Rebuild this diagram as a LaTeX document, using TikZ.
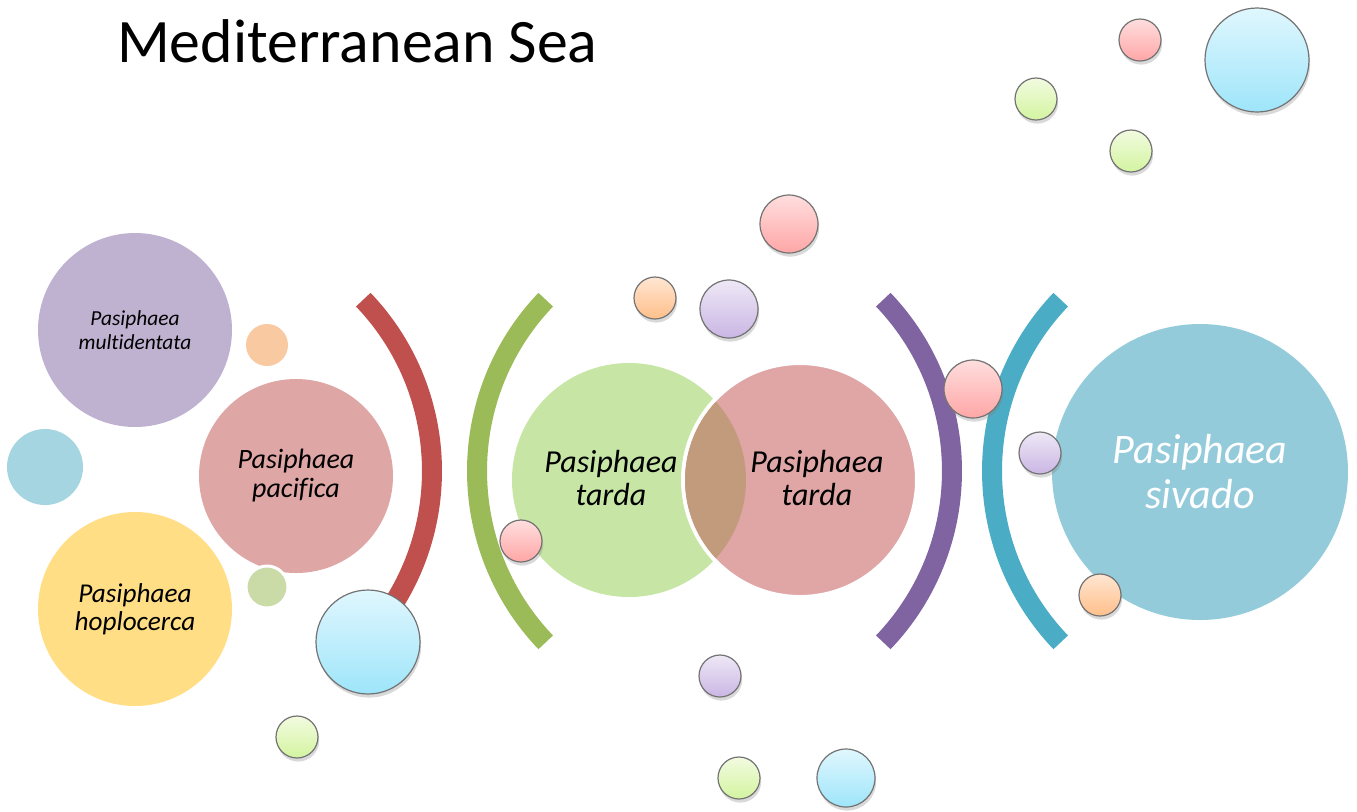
\documentclass[tikz,border=0pt]{standalone}
\usepackage{fontspec}
\setmainfont{Carlito}[Ligatures=NoCommon]
\usetikzlibrary{shadows}
\definecolor{multipurple}{HTML}{BFB1D0}
\definecolor{pacificapink}{HTML}{DFA6A6}
\definecolor{hoployellow}{HTML}{FFDE85}
\definecolor{tardagreen}{HTML}{C7E6A5}
\definecolor{tardapink}{HTML}{DFA6A5}
\definecolor{tardamix}{HTML}{C29A7C}
\definecolor{sivadoblue}{HTML}{94CBDB}
\definecolor{arcred}{HTML}{C0504D}
\definecolor{arcgreen}{HTML}{9BBB59}
\definecolor{arcpurple}{HTML}{8064A2}
\definecolor{arcteal}{HTML}{4BACC6}
\definecolor{flatpeach}{HTML}{F9C9A1}
\definecolor{flatteal}{HTML}{A6D5E2}
\definecolor{flatolive}{HTML}{CADBA8}
\definecolor{pinktop}{HTML}{FFDEDE}
\definecolor{pinkbot}{HTML}{FFA6A6}
\definecolor{bluetop}{HTML}{E0F7FE}
\definecolor{bluebot}{HTML}{9EE5FA}
\definecolor{greentop}{HTML}{F2FBE0}
\definecolor{greenbot}{HTML}{D3F4A0}
\definecolor{lavtop}{HTML}{EEE8F6}
\definecolor{lavbot}{HTML}{CAB6E4}
\definecolor{peachtop}{HTML}{FFE6D2}
\definecolor{peachbot}{HTML}{FFBF8A}
\tikzset{
        big_node/.style={circle, inner sep=0pt},
        spec_text/.style={align=center, font=\itshape},
        flat_node/.style={circle, inner sep=0pt},
        bub_node/.style={circle, inner sep=0pt, draw=black!55, line width=0.6pt,
                         drop shadow={shadow xshift=0.6pt, shadow yshift=-1.8pt, opacity=0.3}},
        bub_pink/.style={bub_node, top color=pinktop, bottom color=pinkbot},
        bub_blue/.style={bub_node, top color=bluetop, bottom color=bluebot},
        bub_green/.style={bub_node, top color=greentop, bottom color=greenbot},
        bub_lav/.style={bub_node, top color=lavtop, bottom color=lavbot},
        bub_peach/.style={bub_node, top color=peachtop, bottom color=peachbot},
        bracket/.style={line width=10pt}
    }
\begin{document}
\begin{tikzpicture}[x=0.5pt, y=-0.5pt]
    \useasboundingbox (0,0) rectangle (1357,811);
    \node[anchor=base west, font=\fontsize{30.9}{36}\selectfont] (title) at (110,62) {Mediterranean Sea};
    % left group
    \node[big_node, fill=multipurple, minimum size=97pt, spec_text,
          font=\itshape\fontsize{10.7}{12}\selectfont] (multi) at (135,330) {Pasiphaea\\multidentata};
    \node[big_node, fill=hoployellow, minimum size=97pt, spec_text,
          font=\itshape\fontsize{13.6}{14}\selectfont] (hoplo) at (135,609) {Pasiphaea\\hoplocerca};
    \node[big_node, fill=pacificapink, minimum size=97pt, spec_text,
          font=\itshape\fontsize{14}{14.5}\selectfont] (pacif) at (296,476) {Pasiphaea\\pacifica};
    \node[flat_node, fill=flatpeach, minimum size=21pt] (dotA) at (267,345) {};
    \node[flat_node, fill=flatteal, minimum size=38pt] (dotB) at (45,467) {};
    \node[flat_node, fill=flatolive, draw=white, line width=1.5pt, minimum size=21pt] (dotC) at (267,587) {};
    % tarda pair
    \node[big_node, fill=tardagreen, minimum size=117pt] (tardaA) at (629,480) {};
    \node[big_node, fill=tardapink, draw=white, line width=2pt, minimum size=117pt] (tardaB) at (800,480) {};
    \begin{scope}
        \clip (tardaA.center) circle[radius=58.5pt];
        \fill[tardamix] (tardaB.center) circle[radius=57.5pt];
    \end{scope}
    \node[spec_text, font=\itshape\fontsize{16}{16.5}\selectfont] (tardaAtext) at (611,478) {Pasiphaea\\tarda};
    \node[spec_text, font=\itshape\fontsize{16}{16.5}\selectfont] (tardaBtext) at (817,478) {Pasiphaea\\tarda};
    % sivado
    \node[big_node, fill=sivadoblue, minimum size=148pt, spec_text, text=white,
          font=\itshape\fontsize{21}{22.5}\selectfont] (sivado) at (1200,472) {Pasiphaea\\sivado};
    % brackets
    \draw[bracket, arcred] ([shift={(184,471)}]-43.7:248) arc[start angle=-43.7, end angle=43.7, radius=248];
    \draw[bracket, arcgreen] ([shift={(725,471)}]136.3:248) arc[start angle=136.3, end angle=223.7, radius=248];
    \draw[bracket, arcpurple] ([shift={(704,471)}]-43.7:248) arc[start angle=-43.7, end angle=43.7, radius=248];
    \draw[bracket, arcteal] ([shift={(1240,471)}]136.3:248) arc[start angle=136.3, end angle=223.7, radius=248];
    % bubbles
    \foreach \bx/\by/\br/\bc [count=\i] in {1140/40/21/pink, 1257/60/52/blue, 1036/99/21/green,
            1131/151/21/green, 789/224/29/pink, 655/298/21/peach, 729/309/29/lav,
            973/389/29/pink, 1040/453/21/lav, 1100/595/21/peach, 521/541/21/pink,
            368/642/52/blue, 297/737/21/green, 720/676/21/lav, 739/778/21/green, 846/778/29/blue}
        \node[bub_\bc, minimum size=\br pt] (bub\i) at (\bx,\by) {};
\end{tikzpicture}
\end{document}
